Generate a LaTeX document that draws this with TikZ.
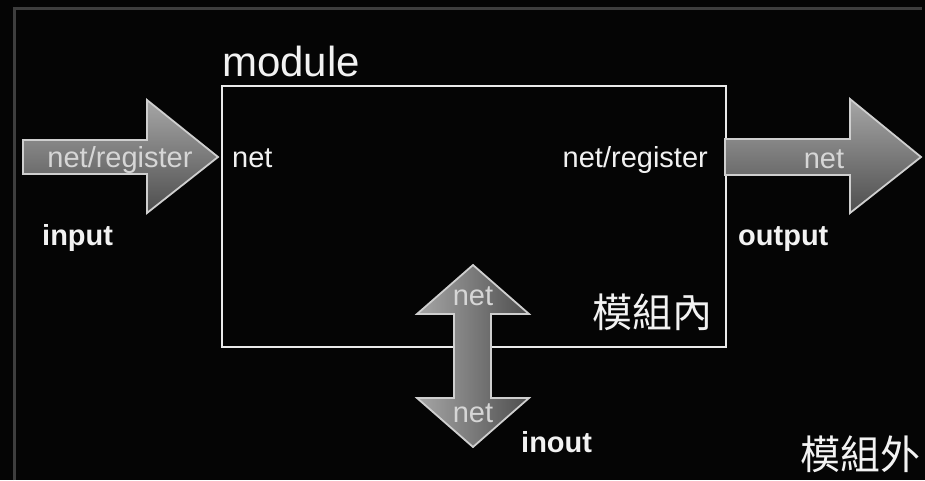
\documentclass[tikz,border=0pt]{standalone}
\usepackage{fontspec}
\setmainfont{Liberation Sans}
\newfontfamily\cjk{Noto Sans CJK TC}
\definecolor{bg}{HTML}{050505}
\definecolor{frame}{HTML}{3E3E3E}
\definecolor{boxline}{HTML}{EAEAEA}
\definecolor{arrline}{HTML}{CFCFCF}
\definecolor{arrtop}{HTML}{A6A6A6}
\definecolor{arrbot}{HTML}{4E4E4E}
\definecolor{txt}{HTML}{F2F2F2}
\definecolor{intxt}{HTML}{D6D6D6}
\tikzset{
  fatarrowh/.style={draw=arrline, line width=1.8pt, line join=miter, top color=arrtop, bottom color=arrbot},
  fatarrowv/.style={draw=arrline, line width=1.8pt, line join=miter, left color=arrtop, right color=arrbot},
  lbl/.style={inner sep=0pt, text=txt, font=\fontsize{29}{29}\selectfont},
  blbl/.style={inner sep=0pt, text=txt, font=\fontsize{29}{29}\selectfont\bfseries},
  albl/.style={inner sep=0pt, text=intxt, font=\fontsize{29}{29}\selectfont},
  cjklbl/.style={inner sep=0pt, text=txt, font=\fontsize{40}{40}\selectfont\cjk},
}
\begin{document}
\begin{tikzpicture}[x=1pt, y=-1pt]
\fill[bg] (0,0) rectangle (925,480);
\useasboundingbox (0,0) rectangle (925,480);
% outer frame
\draw[frame, line width=3pt] (14,480) -- (14,8) -- (922,8);
% module box
\node[draw=boxline, line width=2.4pt, minimum width=504pt, minimum height=261pt, inner sep=0pt, anchor=north west] (module) at (221,85) {};
% input arrow
\draw[fatarrowh] (23,140) -- (147,140) -- (147,100) -- (218,157) -- (147,213) -- (147,174) -- (23,174) -- cycle;
% output arrow
\draw[fatarrowh] (725,139) -- (850,139) -- (850,99) -- (921,157) -- (850,213) -- (850,175) -- (725,175) -- cycle;
% inout arrow
\draw[fatarrowv] (473,265) -- (529,314) -- (491,314) -- (491,398) -- (529,398) -- (473,447) -- (417,398) -- (454,398) -- (454,314) -- (417,314) -- cycle;
% texts
\node[lbl, anchor=base west, font=\fontsize{42}{42}\selectfont] (tmodule) at (222,76) {module};
\node[albl, anchor=base] (tinreg) at (120,167) {net/register};
\node[lbl, anchor=base west] (tinnet) at (232,167) {net};
\node[lbl, anchor=base east] (toutreg) at (708,167) {net/register};
\node[albl, anchor=base] (toutnet) at (824,168) {net};
\node[blbl, anchor=base west] (tinput) at (42,245) {input};
\node[blbl, anchor=base west] (toutput) at (738,245) {output};
\node[blbl, anchor=base west] (tinout) at (521,452) {inout};
\node[albl, anchor=base] (tionet1) at (473,305) {net};
\node[albl, anchor=base] (tionet2) at (473,422) {net};
\node[cjklbl, anchor=east] (tinside) at (713,312) {模組內};
\node[cjklbl, anchor=east] (toutside) at (921,454) {模組外};
\end{tikzpicture}
\end{document}
